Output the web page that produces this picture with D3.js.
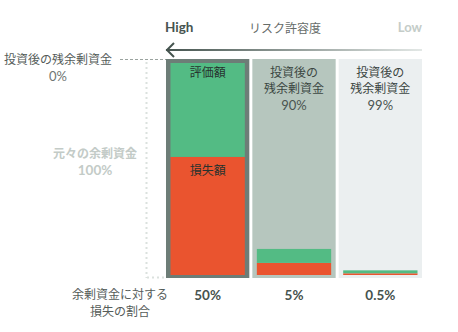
<!DOCTYPE html>
<html><head><meta charset="utf-8">
<script src="https://cdn.jsdelivr.net/npm/d3@7"></script>
<style>
html,body{margin:0;padding:0;background:#fff;}
svg{display:block;font-family:Lato,"Noto Sans CJK JP",sans-serif;}
</style></head>
<body><svg id="c" width="458" height="332"></svg>
<script>
const categories = ["high", "mid", "low"];
const evalValues = [44.3, 6.6, 1.4];
const lossValues = [55.7, 5.7, 0.8];
const lossRatioLabels = ["50%", "5%", "0.5%"];
const remainTitle = ["投資後の", "残余剰資金"];
const remainLabels = [null, "90%", "99%"];
const barColors = {eval: "#53bb84", loss: "#ea542f"};
const colBg = ["#6d7d77", "#b6c6be", "#ebeff0"];

const svg = d3.select("#c");
const x = d3.scaleBand().domain(categories).range([166, 422]).paddingInner(0.035);
const y = d3.scaleLinear().domain([0, 100]).range([275, 63]);

const defs = svg.append("defs");
const g = defs.append("linearGradient").attr("id", "ag").attr("x1", "0").attr("x2", "1");
g.append("stop").attr("offset", "0").attr("stop-color", "#45544f");
g.append("stop").attr("offset", "1").attr("stop-color", "#e3e8e6");
svg.append("rect").attr("x", 166).attr("y", 49).attr("width", 256).attr("height", 2).attr("fill", "url(#ag)");
svg.append("path").attr("d", "M174,43 L167,50 L174,57").attr("fill", "none").attr("stroke", "#45544f").attr("stroke-width", 2);

svg.append("text").attr("x", 165).attr("y", 32).text("High")
  .attr("font-weight", 700).attr("font-size", 13.5).attr("fill", "#46544f");
svg.append("text").attr("x", 285).attr("y", 33).attr("text-anchor", "middle").text("リスク許容度")
  .attr("font-size", 12).attr("fill", "#666c69");
svg.append("text").attr("x", 422).attr("y", 32).attr("text-anchor", "end").text("Low")
  .attr("font-weight", 700).attr("font-size", 13).attr("fill", "#c4ccc8");

svg.append("line").attr("x1", 120).attr("x2", 166).attr("y1", 59.5).attr("y2", 59.5)
  .attr("stroke", "#9aa39f").attr("stroke-dasharray", "3,2");
svg.append("line").attr("x1", 146.5).attr("x2", 146.5).attr("y1", 62).attr("y2", 278)
  .attr("stroke", "#dbe1de").attr("stroke-width", 2).attr("stroke-dasharray", "2,3");
svg.append("line").attr("x1", 147).attr("x2", 166).attr("y1", 277.5).attr("y2", 277.5)
  .attr("stroke", "#dbe1de").attr("stroke-width", 2).attr("stroke-dasharray", "2,3");

svg.append("text").attr("x", 58).attr("y", 64).attr("text-anchor", "middle").text("投資後の残余剰資金")
  .attr("font-size", 12).attr("fill", "#555c59");
svg.append("text").attr("x", 58).attr("y", 81).attr("text-anchor", "middle").text("0%")
  .attr("font-size", 13).attr("fill", "#6f7673");
svg.append("text").attr("x", 95).attr("y", 158).attr("text-anchor", "middle").text("元々の余剰資金")
  .attr("font-size", 12).attr("font-weight", 700).attr("fill", "#c3cbc7");
svg.append("text").attr("x", 95).attr("y", 175).attr("text-anchor", "middle").text("100%")
  .attr("font-size", 13.5).attr("font-weight", 700).attr("fill", "#c3cbc7");

svg.selectAll("rect.bg").data(categories).join("rect").attr("class", "bg")
  .attr("x", d => x(d)).attr("width", x.bandwidth())
  .attr("y", y(100) - 4).attr("height", y(0) - y(100) + 7)
  .attr("fill", (d, i) => colBg[i]);

const pad = 4.5;
svg.selectAll("rect.loss").data(categories).join("rect").attr("class", "loss")
  .attr("x", d => x(d) + pad).attr("width", x.bandwidth() - 2 * pad)
  .attr("y", (d, i) => y(lossValues[i])).attr("height", (d, i) => y(0) - y(lossValues[i]))
  .attr("fill", barColors.loss);
svg.selectAll("rect.eval").data(categories).join("rect").attr("class", "eval")
  .attr("x", d => x(d) + pad).attr("width", x.bandwidth() - 2 * pad)
  .attr("y", (d, i) => y(lossValues[i] + evalValues[i])).attr("height", (d, i) => y(0) - y(evalValues[i]))
  .attr("fill", barColors.eval);

const c0 = x(categories[0]) + x.bandwidth() / 2;
svg.append("text").attr("x", c0).attr("y", 77).attr("text-anchor", "middle").text("評価額")
  .attr("font-size", 12).attr("fill", "#27322e");
svg.append("text").attr("x", c0).attr("y", y(lossValues[0]) + 18).attr("text-anchor", "middle").text("損失額")
  .attr("font-size", 12).attr("fill", "#27322e");

categories.forEach((c, i) => {
  if (!remainLabels[i]) return;
  const cx = x(c) + x.bandwidth() / 2;
  remainTitle.forEach((t, j) => {
    svg.append("text").attr("x", cx).attr("y", 77 + j * 16).attr("text-anchor", "middle").text(t)
      .attr("font-size", 12).attr("fill", "#3b4642");
  });
  svg.append("text").attr("x", cx).attr("y", 110).attr("text-anchor", "middle").text(remainLabels[i])
    .attr("font-size", 13).attr("fill", "#4a5450");
});

svg.append("text").attr("x", 120).attr("y", 299).attr("text-anchor", "middle").text("余剰資金に対する")
  .attr("font-size", 12).attr("fill", "#555c59");
svg.append("text").attr("x", 120).attr("y", 316).attr("text-anchor", "middle").text("損失の割合")
  .attr("font-size", 12).attr("fill", "#555c59");
svg.selectAll("text.ratio").data(categories).join("text").attr("class", "ratio")
  .attr("x", d => x(d) + x.bandwidth() / 2).attr("y", 300).attr("text-anchor", "middle")
  .text((d, i) => lossRatioLabels[i])
  .attr("font-size", 13.5).attr("font-weight", 700).attr("fill", "#46524e");
</script></body></html>
